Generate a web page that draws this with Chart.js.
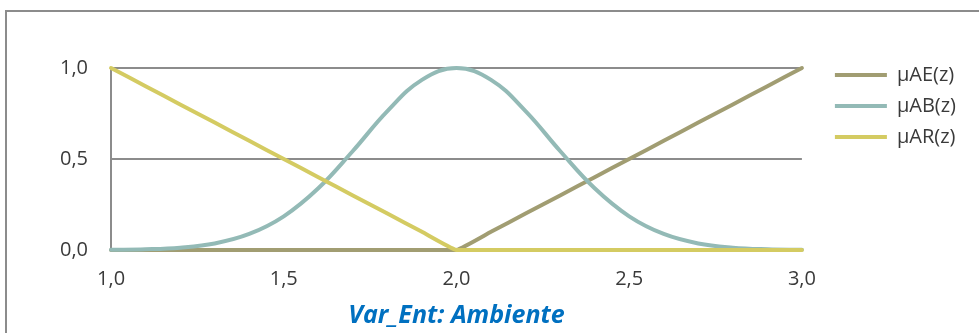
<!DOCTYPE html>
<html>
<head>
<meta charset="utf-8">
<script src="https://cdn.jsdelivr.net/npm/chart.js@4.4.1/dist/chart.umd.min.js"></script>
<style>
  html, body { margin:0; padding:0; background:#fff; overflow:hidden; }
  #frame { position:absolute; left:5px; top:10px; width:1000px; height:400px; border:2px solid #8c8c8c; }
  #wrap  { position:absolute; left:0; top:0; width:979px; height:333px; }
</style>
</head>
<body>
<div id="frame"></div>
<div id="wrap"><canvas id="c" width="979" height="333"></canvas></div>
<script>
// z values (x axis) and membership degrees
const zValues = [1.0,1.1,1.2,1.3,1.4,1.5,1.6,1.7,1.8,1.9,2.0,2.1,2.2,2.3,2.4,2.5,2.6,2.7,2.8,2.9,3.0];
const muAE = [0,0,0,0,0,0,0,0,0,0,0,0.1,0.2,0.3,0.4,0.5,0.6,0.7,0.8,0.9,1.0];
const muAB = [0.001,0.004,0.013,0.036,0.088,0.185,0.339,0.544,0.763,0.935,1.0,0.935,0.763,0.544,0.339,0.185,0.088,0.036,0.013,0.004,0.001];
const muAR = [1.0,0.9,0.8,0.7,0.6,0.5,0.4,0.3,0.2,0.1,0,0,0,0,0,0,0,0,0,0,0];
const seriesNames = ['μAE(z)','μAB(z)','μAR(z)'];
const xTicks = [1.0,1.5,2.0,2.5,3.0];
const yTicks = [0,0.5,1.0];
const axisTitle = 'Var_Ent: Ambiente';

const C = { ae:'#a19d72', ab:'#93bab6', ar:'#d4cb62', grid:'#8c8c8c', text:'#3a3a3a', title:'#0070c0' };
const FONT = '"Open Sans", "Noto Sans", sans-serif';

const pts = ys => zValues.map((x,i) => ({ x, y: ys[i] }));
const line = (label, ys, color, order, tension) => ({
  label, data: pts(ys), borderColor: color, backgroundColor: color,
  borderWidth: 4, pointRadius: 0, pointHoverRadius: 0, tension,
  borderCapStyle: 'round', borderJoinStyle: 'round', clip: false, order
});

new Chart(document.getElementById('c'), {
  type: 'line',
  data: { datasets: [
    line(seriesNames[0], muAE, C.ae, 2, 0.15),
    line(seriesNames[1], muAB, C.ab, 1, 0.4),
    line(seriesNames[2], muAR, C.ar, 0, 0.15),
  ]},
  options: {
    responsive: false, animation: false, events: [],
    layout: { padding: { top: 54, left: 37, right: 13, bottom: 0 } },
    plugins: {
      // empty title used as a spacer so the legend starts above the plot
      title: { display: true, text: '', padding: 0, font: { size: 14, lineHeight: 1 } },
      tooltip: { enabled: false },
      legend: {
        position: 'right', align: 'start',
        labels: {
          color: C.text, font: { family: FONT, size: 20 }, padding: 11,
          usePointStyle: true, pointStyle: 'line', pointStyleWidth: 52,
          sort: (a, b) => a.datasetIndex - b.datasetIndex
        }
      }
    },
    scales: {
      x: {
        type: 'linear', min: 1, max: 3,
        afterBuildTicks: s => { s.ticks = xTicks.map(v => ({ value: v })); },
        grid: { display: false, drawTicks: false },
        border: { display: true, color: C.grid, width: 2 },
        ticks: { color: C.text, font: { family: FONT, size: 20 }, padding: 17, maxRotation: 0,
                 callback: v => v.toFixed(1).replace('.', ',') },
        title: { display: true, text: axisTitle, color: C.title, padding: { top: 2, bottom: 11 },
                 font: { family: FONT, size: 25, weight: 'bold', style: 'italic', lineHeight: '12px' } }
      },
      y: {
        min: 0, max: 1,
        afterBuildTicks: s => { s.ticks = yTicks.map(v => ({ value: v })); },
        grid: { color: C.grid, lineWidth: 2, drawTicks: false },
        border: { display: true, color: C.grid, width: 2 },
        ticks: { color: C.text, font: { family: FONT, size: 20 }, padding: 23,
                 callback: v => v.toFixed(1).replace('.', ',') }
      },
      gap: {
        position: 'right', display: true,
        grid: { display: false, drawTicks: false }, border: { display: false },
        ticks: { display: false },
        afterFit: s => { s.width = 22; }
      }
    }
  }
});
</script>
</body>
</html>
